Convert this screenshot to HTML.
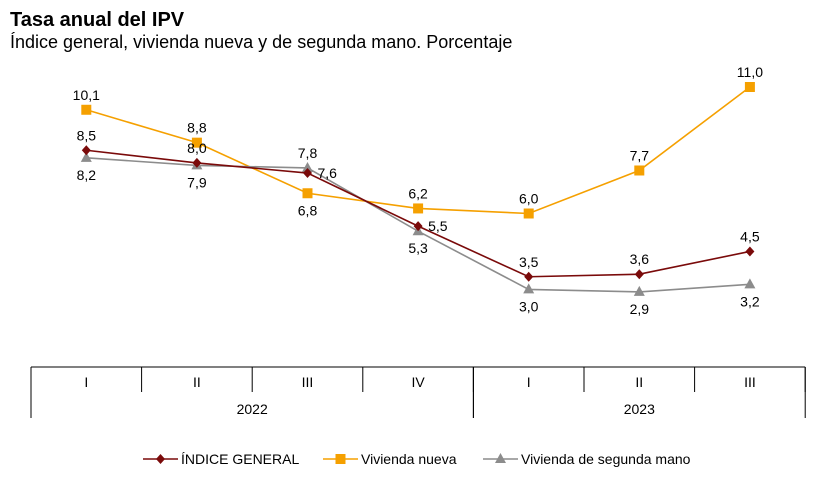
<!DOCTYPE html>
<html><head><meta charset="utf-8"><style>
body{margin:0;background:#fff;font-family:"Liberation Sans",sans-serif}
svg text{font-family:"Liberation Sans",sans-serif}
</style></head><body>
<svg width="814" height="477" xmlns="http://www.w3.org/2000/svg">
<text x="10" y="26" font-size="20" font-weight="bold" fill="#000">Tasa anual del IPV</text>
<text x="10" y="48" font-size="18" fill="#000">Índice general, vivienda nueva y de segunda mano. Porcentaje</text>
<g id="axis"></g>
<g id="plot"></g>
<g id="legend"></g>
</svg>
<script>
const categories=["I","II","III","IV","I","II","III"];
const years=["2022","2023"];
const yearSpans=[4,3];
const general=[8.5,8.0,7.6,5.5,3.5,3.6,4.5];
const nueva=[10.1,8.8,6.8,6.2,6.0,7.7,11.0];
const segunda=[8.2,7.9,7.8,5.3,3.0,2.9,3.2];
const generalPos=["a","a","r","r","a","a","a"];
const nuevaPos=["a","a","b","a","a","a","a"];
const segundaPos=["b","b","a","b","b","b","b"];

const NS="http://www.w3.org/2000/svg";
const x0=31,cw=110.6;
const xc=i=>x0+cw*(i+0.5);
const y=v=>87+(11-v)*25.3;
function mk(p,t,a){const e=document.createElementNS(NS,t);for(const k in a)e.setAttribute(k,a[k]);p.appendChild(e);return e;}
const ax=document.getElementById('axis');
mk(ax,'line',{x1:x0,y1:367,x2:x0+cw*7,y2:367,stroke:'#000','stroke-width':1});
for(let i=0;i<=7;i++){mk(ax,'line',{x1:x0+cw*i,y1:367,x2:x0+cw*i,y2:392,stroke:'#000','stroke-width':1});}
categories.forEach((c,i)=>{const t=mk(ax,'text',{x:xc(i),y:387,'font-size':14,'text-anchor':'middle'});t.textContent=c;

});
let s=0;years.forEach((yr,j)=>{const a=s,b=s+yearSpans[j];
mk(ax,'line',{x1:x0+cw*a,y1:367,x2:x0+cw*a,y2:418,stroke:'#000'});
mk(ax,'line',{x1:x0+cw*b,y1:367,x2:x0+cw*b,y2:418,stroke:'#000'});
const t=mk(ax,'text',{x:x0+cw*(a+b)/2,y:414,'font-size':14,'text-anchor':'middle'});t.textContent=yr;


s=b;});
const plot=document.getElementById('plot');
function marker(g,type,cx,cy,col){
 if(type==='d')return mk(g,'polygon',{points:`${cx},${cy-5} ${cx+4.5},${cy} ${cx},${cy+5} ${cx-4.5},${cy}`,fill:col});
 if(type==='s')return mk(g,'rect',{x:cx-5,y:cy-5,width:10,height:10,fill:col});
 return mk(g,'polygon',{points:`${cx},${cy-6} ${cx+5.5},${cy+4} ${cx-5.5},${cy+4}`,fill:col});
}
function series(vals,pos,col,type,name){
 const g=mk(plot,'g',{});
 
 
 mk(g,'polyline',{points:vals.map((v,i)=>xc(i)+','+y(v)).join(' '),fill:'none',stroke:col,'stroke-width':1.6});
 vals.forEach((v,i)=>{const m=marker(g,type,xc(i),y(v),col);
  
  
  const p=pos[i];let tx=xc(i),ty=y(v)-10,an='middle';
  if(p==='b')ty=y(v)+22;if(p==='r'){tx=xc(i)+10;ty=y(v)+5;an='start';}
  const t=mk(g,'text',{x:tx,y:ty,'font-size':14,'text-anchor':an,fill:'#000'});t.textContent=v.toFixed(1).replace('.',',');
  
  });
}
series(nueva,nuevaPos,'#f5a000','s','series-vivienda-nueva');
series(segunda,segundaPos,'#8c8c8c','t','series-vivienda-segunda');
series(general,generalPos,'#7a0a0a','d','series-indice-general');
const lg=document.getElementById('legend');
const items=[["ÍNDICE GENERAL",'#7a0a0a','d',143],["Vivienda nueva",'#f5a000','s',323],["Vivienda de segunda mano",'#8c8c8c','t',483]];
items.forEach(([lab,col,tp,lx])=>{const g=mk(lg,'g',{});
 
 
 mk(g,'line',{x1:lx,y1:459,x2:lx+35,y2:459,stroke:col,'stroke-width':1.6});
 marker(g,tp,lx+17.5,459,col);
 const t=mk(g,'text',{x:lx+38,y:464,'font-size':14});t.textContent=lab;});
</script>
</body></html>
